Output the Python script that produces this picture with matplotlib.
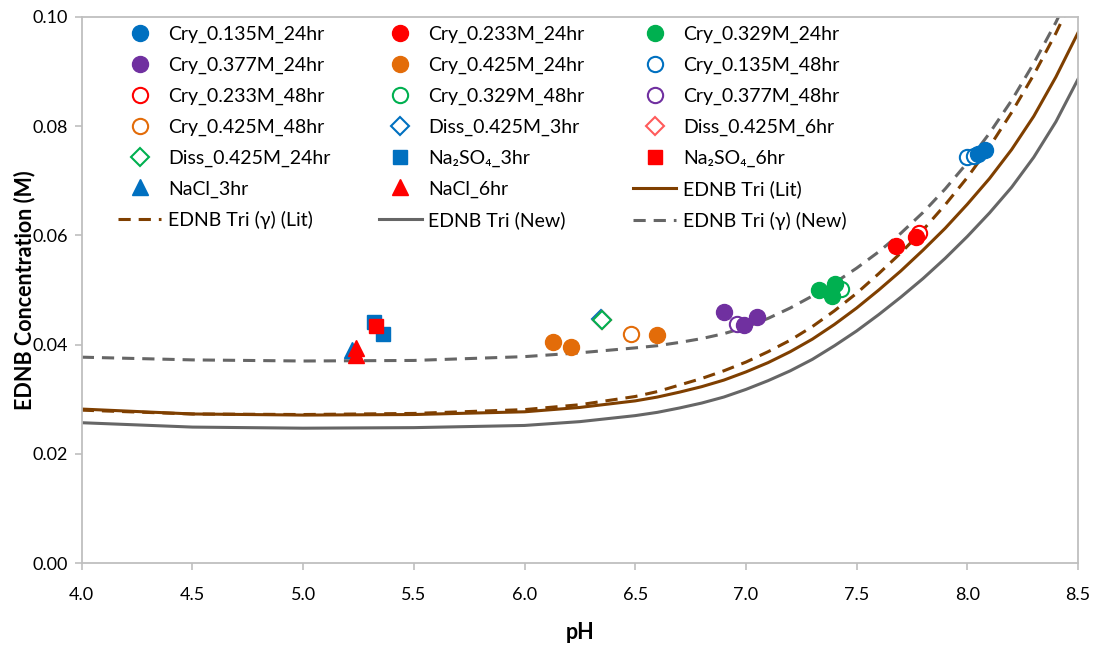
import matplotlib
matplotlib.use("Agg")
import matplotlib.pyplot as plt

plt.rcParams['font.family'] = ['Lato', 'DejaVu Sans']

# measured points (pH, concentration M)
cry135_24_ph = [8.05, 8.08]
cry135_24_c = [0.0749, 0.0756]
cry233_24_ph = [7.68, 7.77]
cry233_24_c = [0.0581, 0.0597]
cry329_24_ph = [7.33, 7.40, 7.39]
cry329_24_c = [0.0500, 0.0511, 0.0489]
cry377_24_ph = [6.90, 6.99, 7.05]
cry377_24_c = [0.0460, 0.0436, 0.0451]
cry425_24_ph = [6.13, 6.21, 6.60]
cry425_24_c = [0.0405, 0.0396, 0.0418]
cry135_48_ph = [8.00, 8.03]
cry135_48_c = [0.0743, 0.0746]
cry233_48_ph = [7.78]
cry233_48_c = [0.0604]
cry329_48_ph = [7.43]
cry329_48_c = [0.0502]
cry377_48_ph = [6.96]
cry377_48_c = [0.0438]
cry425_48_ph = [6.48]
cry425_48_c = [0.0419]
diss3_ph = [6.345]
diss3_c = [0.0446]
diss6_ph = [6.35]
diss6_c = [0.0445]
diss24_ph = [6.35]
diss24_c = [0.0445]
na2so4_3_ph = [5.32, 5.36]
na2so4_3_c = [0.0441, 0.0419]
na2so4_6_ph = [5.33]
na2so4_6_c = [0.0434]
nacl3_ph = [5.22]
nacl3_c = [0.0390]
nacl6_ph = [5.24, 5.24]
nacl6_c = [0.0394, 0.0381]

# model curves
curve_ph = [4.0, 4.5, 5.0, 5.5, 6.0, 6.25, 6.5, 6.6, 6.7, 6.8, 6.9, 7.0, 7.1,
            7.2, 7.3, 7.4, 7.5, 7.6, 7.7, 7.8, 7.9, 8.0, 8.1, 8.2, 8.3, 8.4, 8.5]
lit = [0.0282, 0.0273, 0.0271, 0.0272, 0.0277, 0.0285, 0.0297, 0.0304, 0.0313,
       0.0323, 0.0335, 0.0350, 0.0367, 0.0387, 0.0410, 0.0437, 0.0467, 0.0500,
       0.0535, 0.0573, 0.0613, 0.0657, 0.0704, 0.0757, 0.0818, 0.0890, 0.0971]
lit_g = [0.0280, 0.0273, 0.0272, 0.0274, 0.0281, 0.0290, 0.0305, 0.0314, 0.0326,
         0.0338, 0.0352, 0.0368, 0.0387, 0.0408, 0.0433, 0.0462, 0.0494, 0.0530,
         0.0568, 0.0610, 0.0656, 0.0706, 0.0762, 0.0825, 0.0894, 0.0970, 0.1055]
new = [0.0257, 0.0249, 0.0247, 0.0248, 0.0252, 0.0259, 0.0270, 0.0276, 0.0284,
       0.0293, 0.0304, 0.0318, 0.0334, 0.0352, 0.0373, 0.0398, 0.0425, 0.0455,
       0.0487, 0.0521, 0.0558, 0.0598, 0.0641, 0.0688, 0.0743, 0.0808, 0.0886]
new_g = [0.0377, 0.0372, 0.0370, 0.0371, 0.0378, 0.0385, 0.0394, 0.0398, 0.0404,
         0.0411, 0.0420, 0.0432, 0.0448, 0.0467, 0.0489, 0.0513, 0.0540, 0.0570,
         0.0604, 0.0642, 0.0685, 0.0733, 0.0787, 0.0847, 0.0915, 0.0990, 0.1075]

blue = '#0070C0'
red = '#FF0000'
green = '#00B050'
purple = '#7030A0'
orange = '#E36C09'
brown = '#7F3F00'
grey = '#666666'

fig = plt.figure(figsize=(11.05, 6.48), dpi=100)
ax = fig.add_axes([0.074, 0.131, 0.9016, 0.843])

h = {}
ms = 11.5
dash = (0, (4, 2.6))
h['EDNB Tri (Lit)'], = ax.plot(curve_ph, lit, color=brown, lw=2.2, zorder=2)
h['EDNB Tri (γ) (Lit)'], = ax.plot(curve_ph, lit_g, color=brown, lw=2.2, ls=dash, zorder=2)
h['EDNB Tri (New)'], = ax.plot(curve_ph, new, color=grey, lw=2.2, zorder=2)
h['EDNB Tri (γ) (New)'], = ax.plot(curve_ph, new_g, color=grey, lw=2.2, ls=dash, zorder=2)

# open markers (white face, beneath the filled ones)
for name, xs, ys, col in [
        ('Cry_0.135M_48hr', cry135_48_ph, cry135_48_c, blue),
        ('Cry_0.233M_48hr', cry233_48_ph, cry233_48_c, red),
        ('Cry_0.329M_48hr', cry329_48_ph, cry329_48_c, green),
        ('Cry_0.377M_48hr', cry377_48_ph, cry377_48_c, purple),
        ('Cry_0.425M_48hr', cry425_48_ph, cry425_48_c, orange)]:
    h[name], = ax.plot(xs, ys, 'o', ms=ms - 0.5, mfc='white', mec=col, mew=1.5, ls='none', zorder=3)

for name, xs, ys, col in [
        ('Diss_0.425M_3hr', diss3_ph, diss3_c, blue),
        ('Diss_0.425M_6hr', diss6_ph, diss6_c, '#FF5B5B'),
        ('Diss_0.425M_24hr', diss24_ph, diss24_c, green)]:
    h[name], = ax.plot(xs, ys, 'D', ms=9, mfc='white', mec=col, mew=1.5, ls='none', zorder=3)

for name, xs, ys, col in [
        ('Cry_0.135M_24hr', cry135_24_ph, cry135_24_c, blue),
        ('Cry_0.233M_24hr', cry233_24_ph, cry233_24_c, red),
        ('Cry_0.329M_24hr', cry329_24_ph, cry329_24_c, green),
        ('Cry_0.377M_24hr', cry377_24_ph, cry377_24_c, purple),
        ('Cry_0.425M_24hr', cry425_24_ph, cry425_24_c, orange)]:
    h[name], = ax.plot(xs, ys, 'o', ms=ms, color=col, ls='none', zorder=4)

h['Na₂SO₄_3hr'], = ax.plot(na2so4_3_ph, na2so4_3_c, 's', ms=10.5, color=blue, ls='none', zorder=4)
h['Na₂SO₄_6hr'], = ax.plot(na2so4_6_ph, na2so4_6_c, 's', ms=10.5, color=red, ls='none', zorder=4)
h['NaCl_3hr'], = ax.plot(nacl3_ph, nacl3_c, '^', ms=11, color=blue, ls='none', zorder=4)
h['NaCl_6hr'], = ax.plot(nacl6_ph, nacl6_c, '^', ms=11, color=red, ls='none', zorder=4)

order = ['Cry_0.135M_24hr', 'Cry_0.233M_24hr', 'Cry_0.329M_24hr',
         'Cry_0.377M_24hr', 'Cry_0.425M_24hr', 'Cry_0.135M_48hr',
         'Cry_0.233M_48hr', 'Cry_0.329M_48hr', 'Cry_0.377M_48hr',
         'Cry_0.425M_48hr', 'Diss_0.425M_3hr', 'Diss_0.425M_6hr',
         'Diss_0.425M_24hr', 'Na₂SO₄_3hr', 'Na₂SO₄_6hr',
         'NaCl_3hr', 'NaCl_6hr', 'EDNB Tri (Lit)',
         'EDNB Tri (γ) (Lit)', 'EDNB Tri (New)', 'EDNB Tri (γ) (New)']
# matplotlib fills columns first; rearrange so the legend reads row by row
ncol = 3
cols = [order[i::ncol] for i in range(ncol)]
labels = [lab for c in cols for lab in c]
ax.legend([h[l] for l in labels], labels, ncol=ncol, loc='upper left',
          bbox_to_anchor=(0.107, 0.96), bbox_transform=fig.transFigure,
          frameon=False, fontsize=14, handlelength=2.2, handletextpad=0.35,
          columnspacing=2.5, labelspacing=0.7, borderpad=0, borderaxespad=0)

ax.set_xlim(4.0, 8.5)
ax.set_ylim(0.0, 0.10)
ax.set_xticks([4.0, 4.5, 5.0, 5.5, 6.0, 6.5, 7.0, 7.5, 8.0, 8.5])
ax.set_xticklabels(['4.0', '4.5', '5.0', '5.5', '6.0', '6.5', '7.0', '7.5', '8.0', '8.5'])
ax.set_yticks([0.0, 0.02, 0.04, 0.06, 0.08, 0.10])
ax.set_yticklabels(['0.00', '0.02', '0.04', '0.06', '0.08', '0.10'])
ax.tick_params(labelsize=13, labelcolor='#000000', color='#BFBFBF', length=5, width=1.2)
ax.tick_params(axis='x', pad=12)
ax.tick_params(axis='y', pad=5)
for s in ax.spines.values():
    s.set_color('#BFBFBF')
    s.set_linewidth(1.3)
ax.set_xlabel('pH', fontsize=15.5, fontweight='bold', labelpad=14)
ax.set_ylabel('EDNB Concentration (M)', fontsize=15.5, fontweight='bold')
ax.yaxis.set_label_coords(-0.047, 0.5)

fig.savefig('out.png', dpi=100)
